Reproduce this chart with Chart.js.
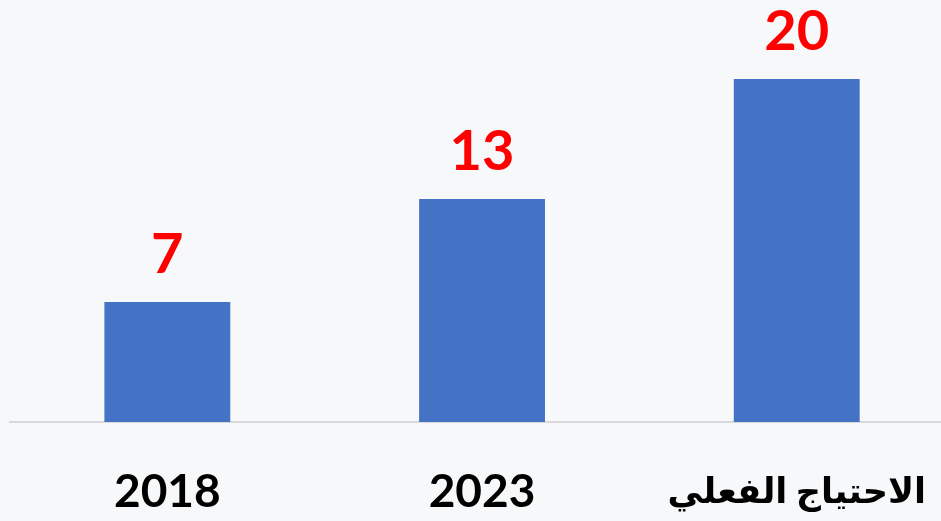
<!DOCTYPE html>
<html>
<head>
<meta charset="utf-8">
<script src="https://cdn.jsdelivr.net/npm/chart.js@4/dist/chart.umd.min.js"></script>
<style>
  html, body { margin: 0; padding: 0; overflow: hidden; background: #f6f8f9; width: 941px; height: 521px; }
  #grafico { display: block; }
</style>
</head>
<body>
<canvas id="grafico" width="971" height="562"></canvas>
<script>
// datos del grafico
const categorias = ['2018', '2023', 'الاحتياج الفعلي'];
const valores = [7, 13, 20];

// etiquetas rojas encima de cada barra
const etiquetasValor = {
  id: 'etiquetasValor',
  afterDatasetsDraw(chart) {
    const ctx = chart.ctx;
    const meta = chart.getDatasetMeta(0);
    ctx.save();
    ctx.fillStyle = '#ff0000';
    ctx.font = 'bold 56px Lato, "Liberation Sans", sans-serif';
    ctx.textAlign = 'center';
    ctx.textBaseline = 'alphabetic';
    meta.data.forEach((bar, i) => {
      ctx.fillText(String(valores[i]), bar.x, bar.y - 29);
    });
    ctx.restore();
  }
};

const ctx = document.getElementById('grafico').getContext('2d');
new Chart(ctx, {
  type: 'bar',
  data: {
    labels: categorias,
    datasets: [{
      data: valores,
      backgroundColor: '#4472c4',
      borderWidth: 0,
      barPercentage: 0.4,
      categoryPercentage: 1
    }]
  },
  options: {
    responsive: false,
    animation: false,
    devicePixelRatio: 1,
    layout: { padding: { left: 10, right: 0, top: 0, bottom: 0 } },
    plugins: {
      legend: { display: false },
      tooltip: { enabled: false }
    },
    scales: {
      x: {
        grid: { display: false, drawTicks: false },
        border: { display: true, color: '#d9d9d9', width: 2 },
        ticks: {
          color: '#000000',
          padding: 45,
          maxRotation: 0,
          minRotation: 0,
          autoSkip: false,
          font: (c) => ({
            family: 'Lato, "DejaVu Sans", sans-serif',
            size: c.index === 2 ? 35 : 46,
            weight: 'bold',
            lineHeight: '50px'
          })
        }
      },
      y: {
        display: false,
        min: 0,
        max: 24.6
      }
    }
  },
  plugins: [etiquetasValor]
});
</script>
</body>
</html>
